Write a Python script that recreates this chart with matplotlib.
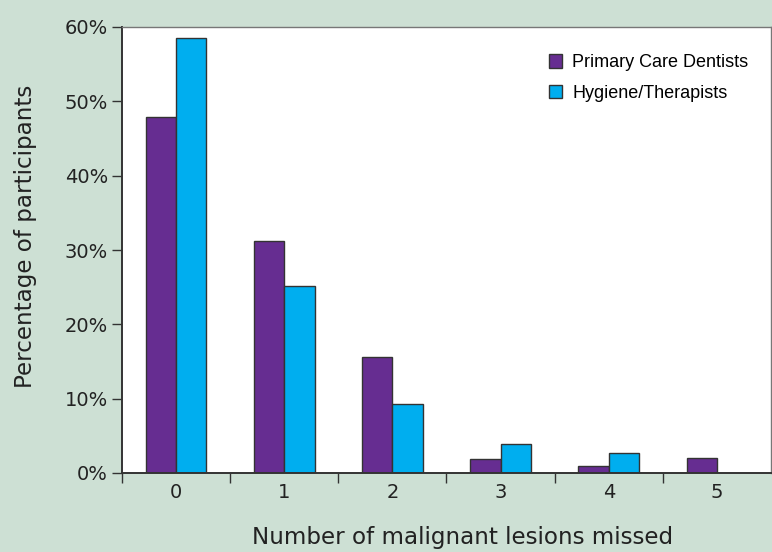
"""
Malignant lesions missed, by professional group
"""

import matplotlib.pyplot as plt
import numpy as np

categories = ["0", "1", "2", "3", "4", "5"]
dentists = [47.9, 31.2, 15.6, 1.9, 0.9, 2.0]
hygienists = [58.5, 25.2, 9.3, 3.9, 2.7, 0.0]
yticks = [0, 10, 20, 30, 40, 50, 60]

bg = "#cde0d4"
purple = "#662d91"
cyan = "#00aeef"
edge = "#333333"

if __name__ == "__main__":
    fig = plt.figure(figsize=(7.72, 5.52), dpi=100, facecolor=bg)
    ax = fig.add_axes([122 / 772, 79 / 552, 649 / 772, 446 / 552])
    ax.set_facecolor("white")

    x = np.arange(len(categories))
    w = 0.28
    ax.bar(x - w / 2, dentists, w, color=purple, edgecolor=edge, linewidth=1,
           label="Primary Care Dentists", zorder=2)
    hb = ax.bar(x + w / 2, hygienists, w, color=cyan, edgecolor=edge, linewidth=1,
                label="Hygiene/Therapists", zorder=2)
    # zero-height bar is not drawn in the original
    hb[-1].set_visible(False)

    ax.set_xlim(-0.5, len(categories) - 0.5)
    ax.set_ylim(0, 60)

    # y axis
    ax.set_yticks(yticks)
    ax.set_yticklabels([f"{v}%" for v in yticks])
    # x axis: labels at centres, ticks between groups
    ax.set_xticks(x)
    ax.set_xticklabels(categories)
    ax.set_xticks(np.arange(-0.5, len(categories) - 0.5), minor=True)
    ax.tick_params(axis="x", which="major", length=0, pad=7)
    ax.tick_params(axis="x", which="minor", length=7, width=1, color=edge)
    ax.tick_params(axis="y", length=7, width=1, color=edge, pad=3)
    ax.tick_params(labelsize=14, labelcolor="#222222")

    for s in ["left", "bottom"]:
        ax.spines[s].set_color(edge)
        ax.spines[s].set_linewidth(1.4)
    for s in ["top", "right"]:
        ax.spines[s].set_color("#777777")
        ax.spines[s].set_linewidth(1.0)

    ax.set_xlabel("Number of malignant lesions missed", fontsize=16.6,
                  color="#222222")
    ax.xaxis.set_label_coords(0.525, -0.118)
    ax.set_ylabel("Percentage of participants", fontsize=16.6,
                  color="#222222")
    ax.yaxis.set_label_coords(-0.131, 0.53)

    ax.legend(loc="upper right", frameon=False,
              bbox_to_anchor=(0.99, 0.975), handlelength=0.75,
              handleheight=0.75, handletextpad=0.55, labelspacing=0.75,
              prop={"family": ["Liberation Sans", "DejaVu Sans"], "size": 13})

    fig.savefig("out.png", dpi=100, facecolor=bg)
